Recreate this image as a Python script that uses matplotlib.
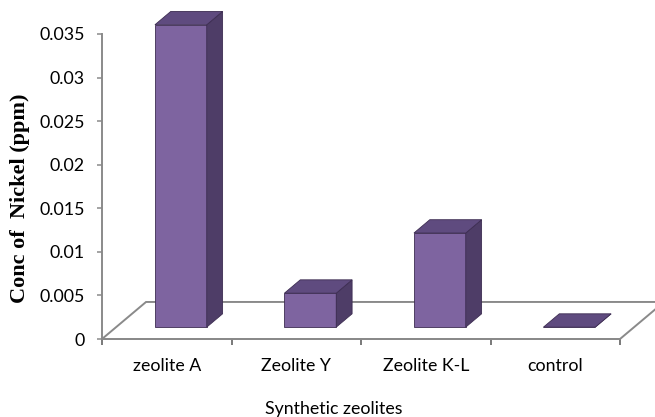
import matplotlib
matplotlib.use("Agg")
import matplotlib.pyplot as plt
from matplotlib.patches import Polygon
import numpy as np

# Nickel concentration left in solution after treatment with each zeolite
categories = ["zeolite A", "Zeolite Y", "Zeolite K-L", "control"]
nickel_ppm = [0.0347, 0.0039, 0.0108, 0.0]
ytick_values = [0, 0.005, 0.01, 0.015, 0.02, 0.025, 0.03, 0.035]
ytick_labels = ["0", "0.005", "0.01", "0.015", "0.02", "0.025", "0.03", "0.035"]

W, H = 655, 417
fig = plt.figure(figsize=(W / 100, H / 100), dpi=100)
ax = fig.add_axes([102 / W, 78 / H, 518 / W, 305 / H])
n = len(categories)
ax.set_xlim(-0.5, n - 0.5)
ax.set_ylim(0, 0.035)

# oblique depth vector of the floor, expressed in data units
depth_dx = 0.34
depth_dy = 0.00425
z_front, z_back = 0.32, 0.68
bar_w = 0.40

axis_grey = "#8a8a8a"
front_c = "#7e64a0"
top_c = "#5f4b7f"
side_c = "#4e3d67"
edge_c = "#3d2d52"

# floor outline (the front edge is the x axis spine)
x_left, x_right = -0.5, n - 0.5
floor = Polygon([(x_left, 0), (x_right, 0),
                 (x_right + depth_dx, depth_dy), (x_left + depth_dx, depth_dy)],
                closed=True, facecolor="white", edgecolor=axis_grey,
                lw=1.4, clip_on=False, zorder=1)
ax.add_patch(floor)

# bars: front faces via ax.bar, top and side faces as polygons
x = np.arange(n)
shift_x = z_front * depth_dx
base_y = z_front * depth_dy
ddx = (z_back - z_front) * depth_dx
ddy = (z_back - z_front) * depth_dy
ax.bar(x + shift_x, nickel_ppm, width=bar_w, bottom=base_y, color=front_c,
       edgecolor=edge_c, linewidth=0.6, clip_on=False, zorder=3)
for xi, v in zip(x, nickel_ppm):
    x0 = xi + shift_x - bar_w / 2
    y_top = base_y + v
    top = Polygon([(x0, y_top), (x0 + bar_w, y_top),
                   (x0 + bar_w + ddx, y_top + ddy), (x0 + ddx, y_top + ddy)],
                  closed=True, facecolor=top_c, edgecolor=edge_c, lw=0.6,
                  clip_on=False, zorder=3)
    side = Polygon([(x0 + bar_w, base_y), (x0 + bar_w + ddx, base_y + ddy),
                    (x0 + bar_w + ddx, y_top + ddy), (x0 + bar_w, y_top)],
                   closed=True, facecolor=side_c, edgecolor=edge_c, lw=0.6,
                   clip_on=False, zorder=3)
    ax.add_patch(side)
    ax.add_patch(top)

# axes styling
for s in ("top", "right"):
    ax.spines[s].set_visible(False)
for s in ("left", "bottom"):
    ax.spines[s].set_color(axis_grey)
    ax.spines[s].set_linewidth(1.4)
    ax.spines[s].set_zorder(2)
ax.patch.set_alpha(0)

tick_font = "Lato"
fs = 12.8
ax.set_yticks(ytick_values)
ax.set_yticklabels(ytick_labels, fontfamily=tick_font, fontsize=fs)
ax.tick_params(axis="y", direction="out", length=3.5, width=1.1,
               color=axis_grey, pad=9)

ax.set_xticks(np.arange(n + 1) - 0.5)
ax.set_xticklabels([])
ax.tick_params(axis="x", which="major", direction="out", length=4.5,
               width=1.1, color="#555555")
ax.set_xticks(x, minor=True)
ax.set_xticklabels(categories, minor=True, fontfamily=tick_font, fontsize=fs)
ax.tick_params(axis="x", which="minor", length=0, pad=14)

fig.text(334 / W, 1 - 409 / H, "Synthetic zeolites", ha="center", va="center",
         fontfamily=tick_font, fontsize=fs)
fig.text(20 / W, 1 - 198 / H, "Conc of  Nickel (ppm)", rotation=90,
         ha="center", va="center", fontfamily="Liberation Serif",
         fontweight="bold", fontsize=16)

fig.savefig("out.png", dpi=100)
